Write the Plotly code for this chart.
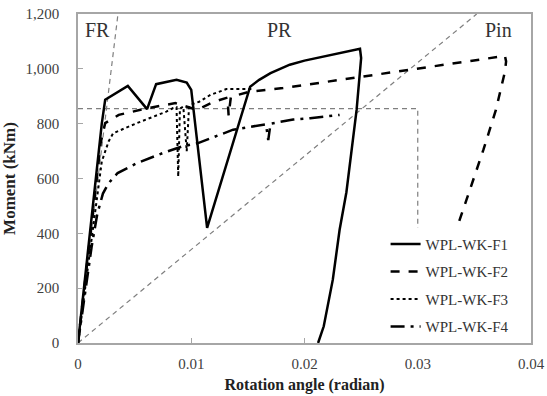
import plotly.graph_objects as go

# ---- data (rotation in radian, moment in kNm) ----
f1_x = [0, 0.0008, 0.0015, 0.0021, 0.0024, 0.0044, 0.0061, 0.0069, 0.0087, 0.0096, 0.0100, 0.0114,
        0.0152, 0.0160, 0.0170, 0.0187, 0.0200, 0.0217, 0.0235, 0.0249, 0.0250, 0.0246, 0.0237,
        0.0231, 0.0225, 0.0217, 0.0212]
f1_m = [0, 300, 580, 800, 887, 938, 853, 944, 960, 950, 923, 420,
        935, 960, 984, 1015, 1030, 1045, 1060, 1073, 1039, 850, 550,
        413, 231, 61, 0]

f2_x = [0, 0.0008, 0.0015, 0.0020, 0.0024, 0.0036, 0.0062, 0.0086, 0.0097, 0.0105, 0.0120, 0.0132,
        0.0133, 0.0135, 0.0152, 0.0181, 0.0215, 0.0249, 0.0299, 0.0352, 0.0377, 0.0378, 0.0377,
        0.0369, 0.0358, 0.0343, 0.0334, 0.0310, 0.0290]
f2_m = [0, 280, 540, 730, 802, 832, 857, 875, 862, 850, 880, 895,
        830, 898, 917, 930, 950, 970, 1002, 1033, 1047, 1027, 990,
        850, 705, 522, 413, 200, 0]

f3_x = [0, 0.0008, 0.0016, 0.0021, 0.0027, 0.0031, 0.0052, 0.0078, 0.0084, 0.0087, 0.00885, 0.0090,
        0.0093, 0.0096, 0.0098, 0.0100, 0.0107, 0.0117, 0.0131, 0.0155]
f3_m = [0, 250, 500, 662, 735, 765, 802, 844, 857, 860, 607, 855,
        862, 700, 860, 870, 880, 905, 926, 926]

f4_x = [0, 0.0012, 0.0017, 0.0022, 0.0027, 0.0035, 0.0052, 0.0075, 0.0092, 0.0106, 0.0137, 0.0160,
        0.0166, 0.0168, 0.0170, 0.0190, 0.0205, 0.0231]
f4_m = [0, 350, 470, 545, 583, 620, 656, 693, 717, 729, 778, 796,
        798, 740, 800, 815, 820, 832]

# reference boundaries
fr_x = [0, 0.00353]
fr_m = [0, 1200]
pin_x = [0, 0.0352]
pin_m = [0, 1200]
yield_x = [0, 0.030, 0.030]
yield_m = [855, 855, 0]

series = [
    ("WPL-WK-F1", f1_x, f1_m, "solid", 2.5),
    ("WPL-WK-F2", f2_x, f2_m, "dash", 2.5),
    ("WPL-WK-F3", f3_x, f3_m, "dot", 2.0),
    ("WPL-WK-F4", f4_x, f4_m, "14px,6px,3px,6px", 2.5),
]

font_family = "Liberation Serif, Times New Roman, serif"
gray = "#7f7f7f"

fig = go.Figure()
for rx, rm in [(fr_x, fr_m), (pin_x, pin_m), (yield_x, yield_m)]:
    fig.add_trace(go.Scatter(x=rx, y=rm, mode="lines", showlegend=False, hoverinfo="skip",
                             line=dict(color=gray, width=1.2, dash="5px,4px")))

for i, (name, xs, ms, dash, w) in enumerate(series):
    fig.add_trace(go.Scatter(x=xs, y=ms, mode="lines", name=name, legendgroup=name,
                             line=dict(color="black", width=w, dash=dash)))

fig.update_layout(
    width=547, height=396,
    margin=dict(l=78, r=16, t=14, b=53),
    paper_bgcolor="white", plot_bgcolor="white",
    font=dict(family=font_family, size=15, color="#404040"),
    showlegend=True,
    legend=dict(x=0.679, y=0.35, xanchor="left", yanchor="top",
                bgcolor="white", borderwidth=0, tracegroupgap=5,
                font=dict(family=font_family, size=15, color="#333333")),
    annotations=[
        dict(x=0.0004, y=1143, xref="x", yref="y", text="FR", showarrow=False,
             xanchor="left", font=dict(size=20, family=font_family, color="#333333")),
        dict(x=0.0178, y=1143, xref="x", yref="y", text="PR", showarrow=False,
             font=dict(size=20, family=font_family, color="#333333")),
        dict(x=0.0371, y=1143, xref="x", yref="y", text="Pin", showarrow=False,
             font=dict(size=20, family=font_family, color="#333333")),
    ],
)
fig.update_xaxes(range=[0, 0.04], tickvals=[0, 0.01, 0.02, 0.03, 0.04],
                 ticktext=["0", "0.01", "0.02", "0.03", "0.04"], automargin=False,
                 showline=True, mirror=True, linecolor="#a6a6a6", linewidth=1.5,
                 ticks="inside", ticklen=5, tickcolor="#a6a6a6", showgrid=False, zeroline=False,
                 ticklabelstandoff=6,
                 title=dict(text="<b>Rotation angle (radian)</b>", standoff=8,
                            font=dict(size=16, color="#222222")))
fig.update_yaxes(range=[0, 1200], dtick=200, tickformat=",d", automargin=False,
                 showline=True, mirror=True, linecolor="#a6a6a6", linewidth=1.5,
                 ticks="inside", ticklen=5, tickcolor="#a6a6a6", showgrid=False, zeroline=False,
                 ticklabelstandoff=14,
                 title=dict(text="<b>Moment (kNm)</b>", standoff=8,
                            font=dict(size=17, color="#222222")))

fig.write_html("out.html")
